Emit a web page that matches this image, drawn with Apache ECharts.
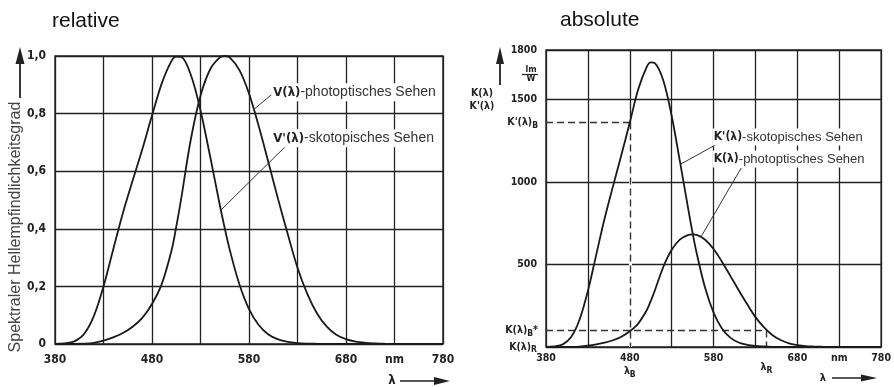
<!DOCTYPE html>
<html>
<head>
<meta charset="utf-8">
<title>Spektraler Hellempfindlichkeitsgrad</title>
<script src="https://cdn.jsdelivr.net/npm/echarts@6/dist/echarts.min.js"></script>
<style>
html, body { margin: 0; padding: 0; background: #fff; }
#chart { width: 894px; height: 387px; }
</style>
</head>
<body>
<div id="chart"></div>
<script>
// wavelengths in nm (10 nm steps plus the two peak points)
const lambdaNm = [380, 390, 400, 410, 420, 430, 440, 450, 460, 470, 480, 490, 500, 505, 510, 520, 530, 540, 550, 555,
  560, 570, 580, 590, 600, 610, 620, 630, 640, 650, 660, 670, 680, 690, 700, 710, 720, 730, 740, 750, 760, 770, 780];

// relative: V(λ) photopic, V'(λ) scotopic
const vPhot = [0.00004, 0.00012, 0.0004, 0.0012, 0.004, 0.0116, 0.023, 0.038, 0.06, 0.091, 0.139, 0.208, 0.323, 0.407, 0.503, 0.71, 0.862, 0.954, 0.995, 1.0,
  0.995, 0.952, 0.87, 0.757, 0.631, 0.503, 0.381, 0.265, 0.175, 0.107, 0.061, 0.032, 0.017, 0.0082, 0.0041, 0.0021, 0.001, 0.0005, 0.00025, 0.00012, 0.00006, 0.00003, 0.00001];
const vScot = [0.0006, 0.0022, 0.0093, 0.0348, 0.0966, 0.1998, 0.3281, 0.455, 0.567, 0.676, 0.793, 0.904, 0.982, 0.998, 0.997, 0.935, 0.811, 0.65, 0.481, 0.402,
  0.329, 0.208, 0.121, 0.066, 0.033, 0.016, 0.0074, 0.0033, 0.0015, 0.0007, 0.0003, 0.0001, 0.0001, 0, 0, 0, 0, 0, 0, 0, 0, 0, 0];

// absolute (lm/W): K(λ) photopic, K'(λ) scotopic
const kPhot = [0, 0.1, 0.3, 0.8, 2.7, 7.9, 15.7, 26, 41, 62, 95, 142, 221, 278, 344, 485, 589, 652, 680, 683,
  680, 650, 594, 517, 431, 344, 260, 181, 120, 73, 42, 22, 12, 5.6, 2.8, 1.4, 0.7, 0.4, 0.2, 0.1, 0, 0, 0];
const kScot = [1, 4, 16, 60, 165, 340, 560, 780, 975, 1165, 1360, 1560, 1695, 1725, 1720, 1615, 1400, 1120, 830, 690,
  565, 357, 208, 112, 57, 27, 13, 6, 3, 1, 0.5, 0.2, 0.1, 0, 0, 0, 0, 0, 0, 0, 0, 0, 0];

// tick labels
const xTickLabels = { 380: '380', 480: '480', 580: '580', 680: '680', 730: 'nm', 780: '780' };
const yTicksAbs = [500, 1000, 1500, 1800];

// reading lines in the absolute chart
const lambdaB = 480;
const lambdaR = 643;
const kScotB = 1360;   // K'(λ)B
const kPhotB = 100;    // K(λ)B* = K(λ)R

// curve labels: [curve point, end of leader, text anchor]
const notesRel = [
  { from: [584, 0.812], to: [603, 0.865], at: [604, 0.874], key: 'V(λ)', text: '-photoptisches Sehen' },
  { from: [551, 0.465], to: [617, 0.684], at: [604, 0.714], key: "V'(λ)", text: '-skotopisches Sehen' }
];
const notesAbs = [
  { from: [541, 1109], to: [582, 1224], at: [579, 1273], key: "K'(λ)", text: '-skotopisches Sehen' },
  { from: [565, 668], to: [613, 1085], at: [579, 1139], key: 'K(λ)', text: '-photoptisches Sehen' }
];

const ink = '#222';
const fontTech = '"DejaVu Sans Condensed", "DejaVu Sans", sans-serif';
const fontText = '"Liberation Sans", Arial, sans-serif';

function pairs(ys) {
  return lambdaNm.map(function (x, i) { return [x, ys[i]]; });
}

function subRich(size) {
  return {
    k: { fontFamily: fontTech, fontWeight: 'bold', fontSize: size, color: ink },
    s: { fontFamily: fontTech, fontWeight: 'bold', fontSize: size - 2, color: ink, padding: [6, 0, 0, 0] }
  };
}

function noteRich(size) {
  return {
    k: { fontFamily: fontTech, fontWeight: 'bold', fontSize: size - 1, color: ink },
    t: { fontFamily: fontText, fontSize: size, color: '#333' }
  };
}

function leaders(notes) {
  return notes.map(function (n) {
    return [{ coord: n.from, lineStyle: { type: 'solid', width: 1, color: '#333' } }, { coord: n.to }];
  });
}

function noteMarks(notes, size) {
  return {
    silent: true,
    symbol: 'circle',
    symbolSize: 0,
    label: {
      show: true, position: 'right', distance: 0,
      backgroundColor: '#fff', padding: [2, 1, 2, 1],
      rich: noteRich(size)
    },
    data: notes.map(function (n) {
      return { coord: n.at, value: 0, label: { formatter: '{k|' + n.key + '}{t|' + n.text + '}' } };
    })
  };
}

const chart = echarts.init(document.getElementById('chart'), null, { renderer: 'canvas' });

const gridLine = { color: ink, width: 1.3 };
const curveStyle = { color: '#1a1a1a', width: 1.8 };

const option = {
  animation: false,
  backgroundColor: '#fff',
  grid: [
    { left: 55, right: 451, top: 56, bottom: 43, show: true, borderColor: ink, borderWidth: 1.4 },
    { left: 546, right: 11, top: 50, bottom: 40, show: true, borderColor: ink, borderWidth: 1.4 }
  ],
  xAxis: [
    {
      gridIndex: 0, type: 'value', min: 380, max: 780, interval: 50,
      axisLine: { show: false }, axisTick: { show: false },
      splitLine: { show: true, lineStyle: gridLine },
      axisLabel: {
        showMinLabel: true, showMaxLabel: true, margin: 10,
        formatter: function (v) { return xTickLabels[v] || ''; },
        color: ink, fontFamily: fontTech, fontWeight: 'bold', fontSize: 12
      }
    },
    {
      gridIndex: 1, type: 'value', min: 380, max: 780, interval: 50,
      axisLine: { show: false }, axisTick: { show: false },
      splitLine: { show: true, lineStyle: gridLine },
      axisLabel: {
        showMinLabel: true, showMaxLabel: true, margin: 6,
        formatter: function (v) { return xTickLabels[v] || ''; },
        color: ink, fontFamily: fontTech, fontWeight: 'bold', fontSize: 10.5
      }
    }
  ],
  yAxis: [
    {
      gridIndex: 0, type: 'value', min: 0, max: 1, interval: 0.2,
      axisLine: { show: false }, axisTick: { show: false },
      splitLine: { show: true, lineStyle: gridLine },
      axisLabel: {
        showMinLabel: true, showMaxLabel: true, margin: 9,
        formatter: function (v) { return v === 0 ? '0' : v.toFixed(1).replace('.', ','); },
        color: ink, fontFamily: fontTech, fontWeight: 'bold', fontSize: 12
      }
    },
    {
      gridIndex: 1, type: 'value', min: 0, max: 1800, interval: 500,
      axisLine: { show: false }, axisTick: { show: false },
      splitLine: { show: true, lineStyle: gridLine },
      axisLabel: {
        showMinLabel: true, showMaxLabel: true, margin: 9,
        formatter: function (v) {
          if (v === 0) return '{k|K(λ)}{s|R}';
          return yTicksAbs.indexOf(v) >= 0 ? '{k|' + v + '}' : '';
        },
        rich: subRich(10.5)
      }
    }
  ],
  series: [
    {
      name: 'V(λ)', type: 'line', xAxisIndex: 0, yAxisIndex: 0, smooth: 0.35,
      showSymbol: false, silent: true, lineStyle: curveStyle, data: pairs(vPhot),
      markLine: { silent: true, symbol: ['none', 'none'], label: { show: false }, data: leaders(notesRel) },
      markPoint: noteMarks(notesRel, 14)
    },
    {
      name: "V'(λ)", type: 'line', xAxisIndex: 0, yAxisIndex: 0, smooth: 0.35,
      showSymbol: false, silent: true, lineStyle: curveStyle, data: pairs(vScot)
    },
    {
      name: 'K(λ)', type: 'line', xAxisIndex: 1, yAxisIndex: 1, smooth: 0.35,
      showSymbol: false, silent: true, lineStyle: curveStyle, data: pairs(kPhot),
      markPoint: noteMarks(notesAbs, 13)
    },
    {
      name: "K'(λ)", type: 'line', xAxisIndex: 1, yAxisIndex: 1, smooth: 0.35,
      showSymbol: false, silent: true, lineStyle: curveStyle, data: pairs(kScot),
      markLine: {
        silent: true, symbol: ['none', 'none'], z: 1,
        lineStyle: { type: [7, 4], width: 1.4, color: '#333' },
        label: { show: false },
        data: [
          // the 480 nm grid line turns into the dashed λB line below K'(λ)B
          [{ coord: [lambdaB, kScotB], lineStyle: { type: 'solid', color: '#fff', width: 3 } }, { coord: [lambdaB, 0] }],
          [{ coord: [380, kScotB], label: { show: true, position: 'start', distance: 8, formatter: "{k|K'(λ)}{s|B}", rich: subRich(10.5) } },
           { coord: [lambdaB, kScotB] }],
          [{ coord: [lambdaB, kScotB], label: { show: true, position: 'end', distance: 17, formatter: '{k|λ}{s|B}', rich: subRich(10.5) } },
           { coord: [lambdaB, 0] }],
          [{ coord: [380, kPhotB], label: { show: true, position: 'start', distance: 8, formatter: '{k|K(λ)}{s|B}{k|*}', rich: subRich(10.5) } },
           { coord: [lambdaR, kPhotB] }],
          [{ coord: [lambdaR, kPhotB], label: { show: true, position: 'end', distance: 13, formatter: '{k|λ}{s|R}', rich: subRich(10.5) } },
           { coord: [lambdaR, 0] }]
        ].concat(leaders(notesAbs))
      }
    }
  ],
  graphic: [
    { type: 'text', x: 52, y: 21, style: { text: 'relative', font: '21px "Liberation Sans", Arial', fill: '#111', verticalAlign: 'middle' } },
    { type: 'text', x: 560, y: 20, style: { text: 'absolute', font: '21px "Liberation Sans", Arial', fill: '#111', verticalAlign: 'middle' } },
    // left ordinate arrow and name
    { type: 'line', shape: { x1: 20, y1: 60, x2: 20, y2: 98 }, style: { stroke: ink, lineWidth: 1.8 } },
    { type: 'polygon', shape: { points: [[20, 47], [15.5, 64], [24.5, 64]] }, style: { fill: ink } },
    { type: 'text', x: 16, y: 227, rotation: Math.PI / 2,
      style: { text: 'Spektraler Hellempfindlichkeitsgrad', font: '16px "Liberation Sans", Arial', fill: '#444', align: 'center', verticalAlign: 'middle' } },
    // right ordinate arrow, name and unit
    { type: 'line', shape: { x1: 500, y1: 60, x2: 500, y2: 85 }, style: { stroke: ink, lineWidth: 1.8 } },
    { type: 'polygon', shape: { points: [[500, 47], [496, 64], [504, 64]] }, style: { fill: ink } },
    { type: 'text', x: 482, y: 93, style: { text: 'K(λ)', font: 'bold 10.5px "DejaVu Sans Condensed"', fill: ink, align: 'center', verticalAlign: 'middle' } },
    { type: 'text', x: 482, y: 106, style: { text: "K'(λ)", font: 'bold 10.5px "DejaVu Sans Condensed"', fill: ink, align: 'center', verticalAlign: 'middle' } },
    { type: 'text', x: 531, y: 70, style: { text: 'lm', font: 'bold 9px "DejaVu Sans Condensed"', fill: ink, align: 'center', verticalAlign: 'middle' } },
    { type: 'line', shape: { x1: 522, y1: 74.5, x2: 538, y2: 74.5 }, style: { stroke: ink, lineWidth: 1.2 } },
    { type: 'text', x: 531, y: 79, style: { text: 'W', font: 'bold 9px "DejaVu Sans Condensed"', fill: ink, align: 'center', verticalAlign: 'middle' } },
    // abscissa arrows
    { type: 'text', x: 392, y: 381, style: { text: 'λ', font: 'bold 13px "DejaVu Sans Condensed"', fill: ink, align: 'center', verticalAlign: 'middle' } },
    { type: 'line', shape: { x1: 400, y1: 381, x2: 440, y2: 381 }, style: { stroke: ink, lineWidth: 1.5 } },
    { type: 'polygon', shape: { points: [[450, 381], [434, 377], [434, 385]] }, style: { fill: ink } },
    { type: 'text', x: 823, y: 378, style: { text: 'λ', font: 'bold 11px "DejaVu Sans Condensed"', fill: ink, align: 'center', verticalAlign: 'middle' } },
    { type: 'line', shape: { x1: 832, y1: 378, x2: 866, y2: 378 }, style: { stroke: ink, lineWidth: 1.4 } },
    { type: 'polygon', shape: { points: [[877, 378], [861, 374.5], [861, 381.5]] }, style: { fill: ink } }
  ]
};

chart.setOption(option);
</script>
</body>
</html>
